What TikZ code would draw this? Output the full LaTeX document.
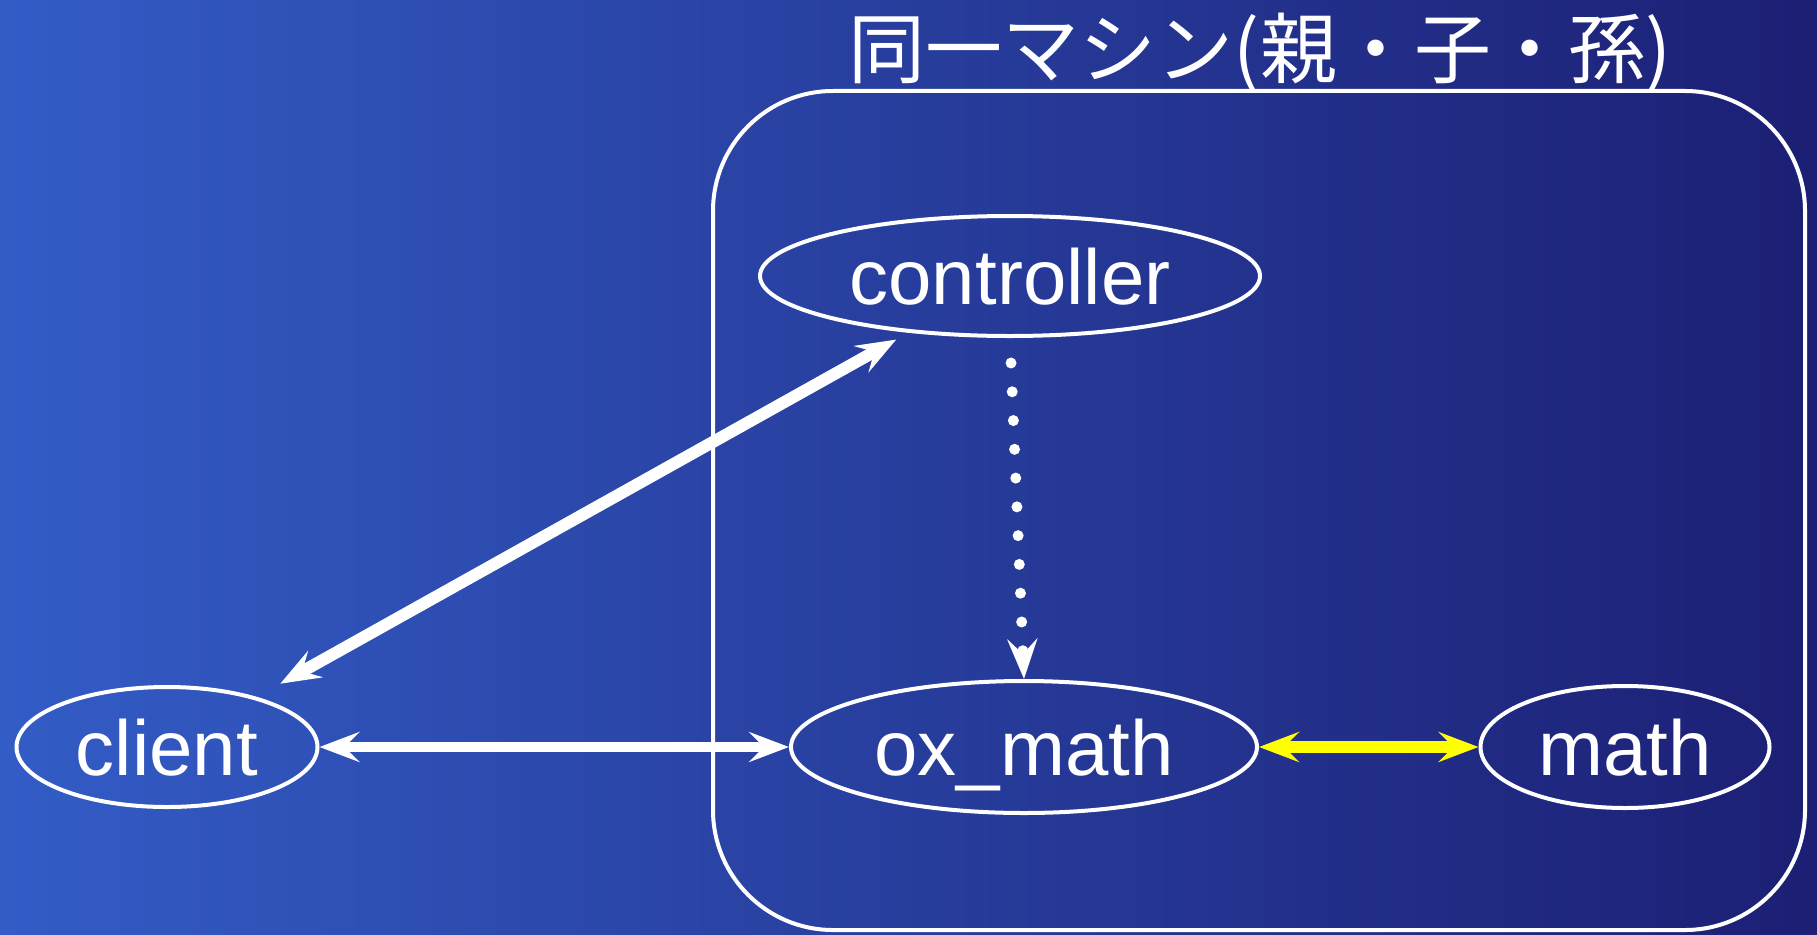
\documentclass[tikz,border=0pt]{standalone}
\usepackage{fontspec}
\setmainfont{Liberation Sans}
\newfontfamily\jpfont{Noto Sans CJK JP}
\usetikzlibrary{shapes.geometric,arrows.meta}
\definecolor{bgL}{RGB}{51,92,198}
\definecolor{bgR}{RGB}{28,31,116}
\definecolor{linkyellow}{RGB}{255,255,0}
\begin{document}
\begin{tikzpicture}[x=1bp,y=-1bp,
  >={Stealth[length=40bp,width=30bp,inset=15bp]},
  proc/.style={ellipse, draw=white, line width=4bp, inner sep=0pt,
    text=white, font=\fontsize{78bp}{90bp}\selectfont,
    text height=56bp, text depth=0bp},
  machinebox/.style={draw=white, line width=4bp, rounded corners=120bp,
    inner sep=0pt},
  link/.style={white, line width=10bp},
  thicklink/.style={white, line width=12bp},
  yellowlink/.style={linkyellow, line width=12bp},
  dotlink/.style={white, line width=11bp, line cap=round,
    dash pattern=on 0bp off 28.8bp}
]
\useasboundingbox (0,0) rectangle (1817,934);
\shade[left color=bgL, right color=bgR] (0,0) rectangle (1817,934);

\node[machinebox, minimum width=1092bp, minimum height=839bp] (machine) at (1259,510.5) {};
\node[text=white, inner sep=0pt, anchor=base, font=\jpfont\fontsize{77bp}{90bp}\selectfont] (title) at (1260,77) {同一マシン(親・子・孫)};

\node[proc, minimum width=500bp, minimum height=120bp] (controller) at (1010,276) {controller};
\node[proc, minimum width=466bp, minimum height=132bp] (oxmath) at (1024,747) {ox\_math};
\node[proc, minimum width=289bp, minimum height=122bp] (math) at (1625,747) {math};
\node[proc, minimum width=301bp, minimum height=120bp] (client) at (167,747) {client};

\draw[thicklink, <->, shorten <=27bp, shorten >=14bp] (client) -- (controller);
\draw[link, <->] (client) -- (oxmath);
\draw[yellowlink, <->] (oxmath) -- (math);
\draw[dotlink, ->, shorten <=25bp] (controller.south) -- (oxmath.north);
\end{tikzpicture}
\end{document}
